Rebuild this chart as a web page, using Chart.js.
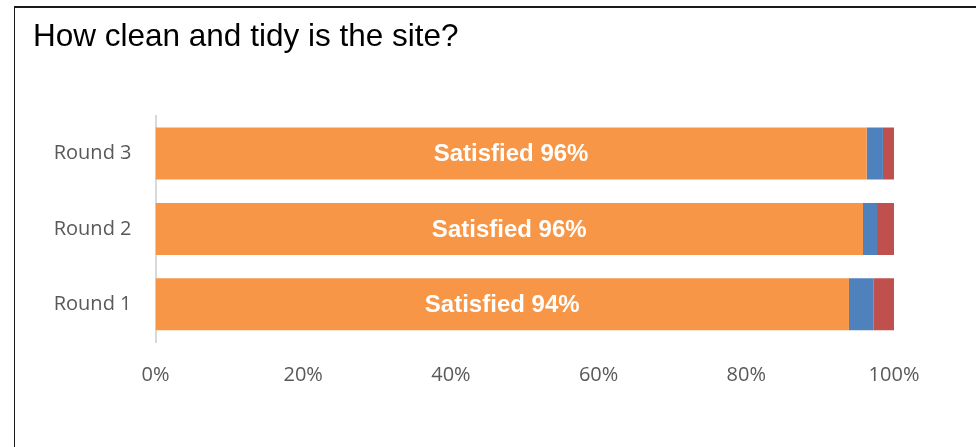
<!DOCTYPE html>
<html lang="en">
<head>
    <meta charset="UTF-8">
    <title>How clean and tidy is the site?</title>
    <script src="https://cdn.jsdelivr.net/npm/chart.js"></script>
    <style>
        body {
            margin: 0;
            background: #ffffff;
        }

        .wrap {
            position: relative;
            width: 976px;
            height: 447px;
            overflow: hidden;
        }

        /* chart frame, only left and top edges show */
        .frame {
            position: absolute;
            left: 14px;
            top: 6px;
            width: 1000px;
            height: 460px;
            border-left: 1.5px solid #1a1a1a;
            border-top: 2px solid #1a1a1a;
            pointer-events: none;
        }
    </style>
</head>
<body>
    <div class="wrap">
        <canvas id="chart" width="976" height="447"></canvas>
        <div class="frame"></div>
    </div>

    <script>
        const rounds = ['Round 1', 'Round 2', 'Round 3'];
        const satisfied = [93.9, 95.8, 96.3];
        const neutral = [3.3, 1.9, 2.2];
        const dissatisfied = [2.8, 2.3, 1.5];
        const xTicks = [0, 20, 40, 60, 80, 100];

        // writes "Satisfied NN%" in the middle of each orange bar
        const satisfiedLabels = {
            id: 'satisfiedLabels',
            afterDatasetsDraw(chart) {
                const ctx = chart.ctx;
                const meta = chart.getDatasetMeta(0);
                ctx.save();
                ctx.fillStyle = '#ffffff';
                ctx.font = 'bold 24px "Liberation Sans", Arial, sans-serif';
                ctx.textAlign = 'center';
                ctx.textBaseline = 'middle';
                meta.data.forEach((bar, i) => {
                    const cx = (bar.x + bar.base) / 2;
                    ctx.fillText('Satisfied ' + Math.round(satisfied[i]) + '%', cx, bar.y + 1);
                });
                ctx.restore();
            }
        };

        new Chart(document.getElementById('chart'), {
            type: 'bar',
            data: {
                labels: rounds,
                datasets: [
                    { label: 'Satisfied', data: satisfied, backgroundColor: '#F79646' },
                    { label: 'Neither', data: neutral, backgroundColor: '#4F81BD' },
                    { label: 'Dissatisfied', data: dissatisfied, backgroundColor: '#C0504D' }
                ]
            },
            options: {
                indexAxis: 'y',
                responsive: false,
                animation: false,
                categoryPercentage: 1,
                barPercentage: 0.69,
                layout: {
                    padding: { left: 33, right: 82, top: 0, bottom: 0 }
                },
                plugins: {
                    legend: { display: false },
                    tooltip: { enabled: false },
                    title: {
                        display: true,
                        text: 'How clean and tidy is the site?',
                        align: 'start',
                        color: '#000000',
                        font: { family: '"Liberation Sans", Arial, sans-serif', size: 31.5, weight: 'normal' },
                        padding: { top: 18, bottom: 60 }
                    }
                },
                scales: {
                    x: {
                        stacked: true,
                        min: 0,
                        max: 100,
                        afterBuildTicks: (s) => { s.ticks = xTicks.map(v => ({ value: v })); },
                        afterFit: (s) => { s.height = 105; },
                        grid: { display: false, drawTicks: false },
                        border: { display: false },
                        ticks: {
                            padding: 21,
                            color: '#595959',
                            font: { family: '"Open Sans", sans-serif', size: 20 },
                            callback: (v) => v + '%'
                        }
                    },
                    y: {
                        stacked: true,
                        reverse: true,
                        afterFit: (s) => { s.width = 122.5; },
                        grid: { display: false, drawTicks: false },
                        border: { display: true, color: '#d9d9d9', width: 2 },
                        ticks: {
                            padding: 24,
                            color: '#595959',
                            font: { family: '"Open Sans", sans-serif', size: 20 }
                        }
                    }
                }
            },
            plugins: [satisfiedLabels]
        });
    </script>
</body>
</html>
